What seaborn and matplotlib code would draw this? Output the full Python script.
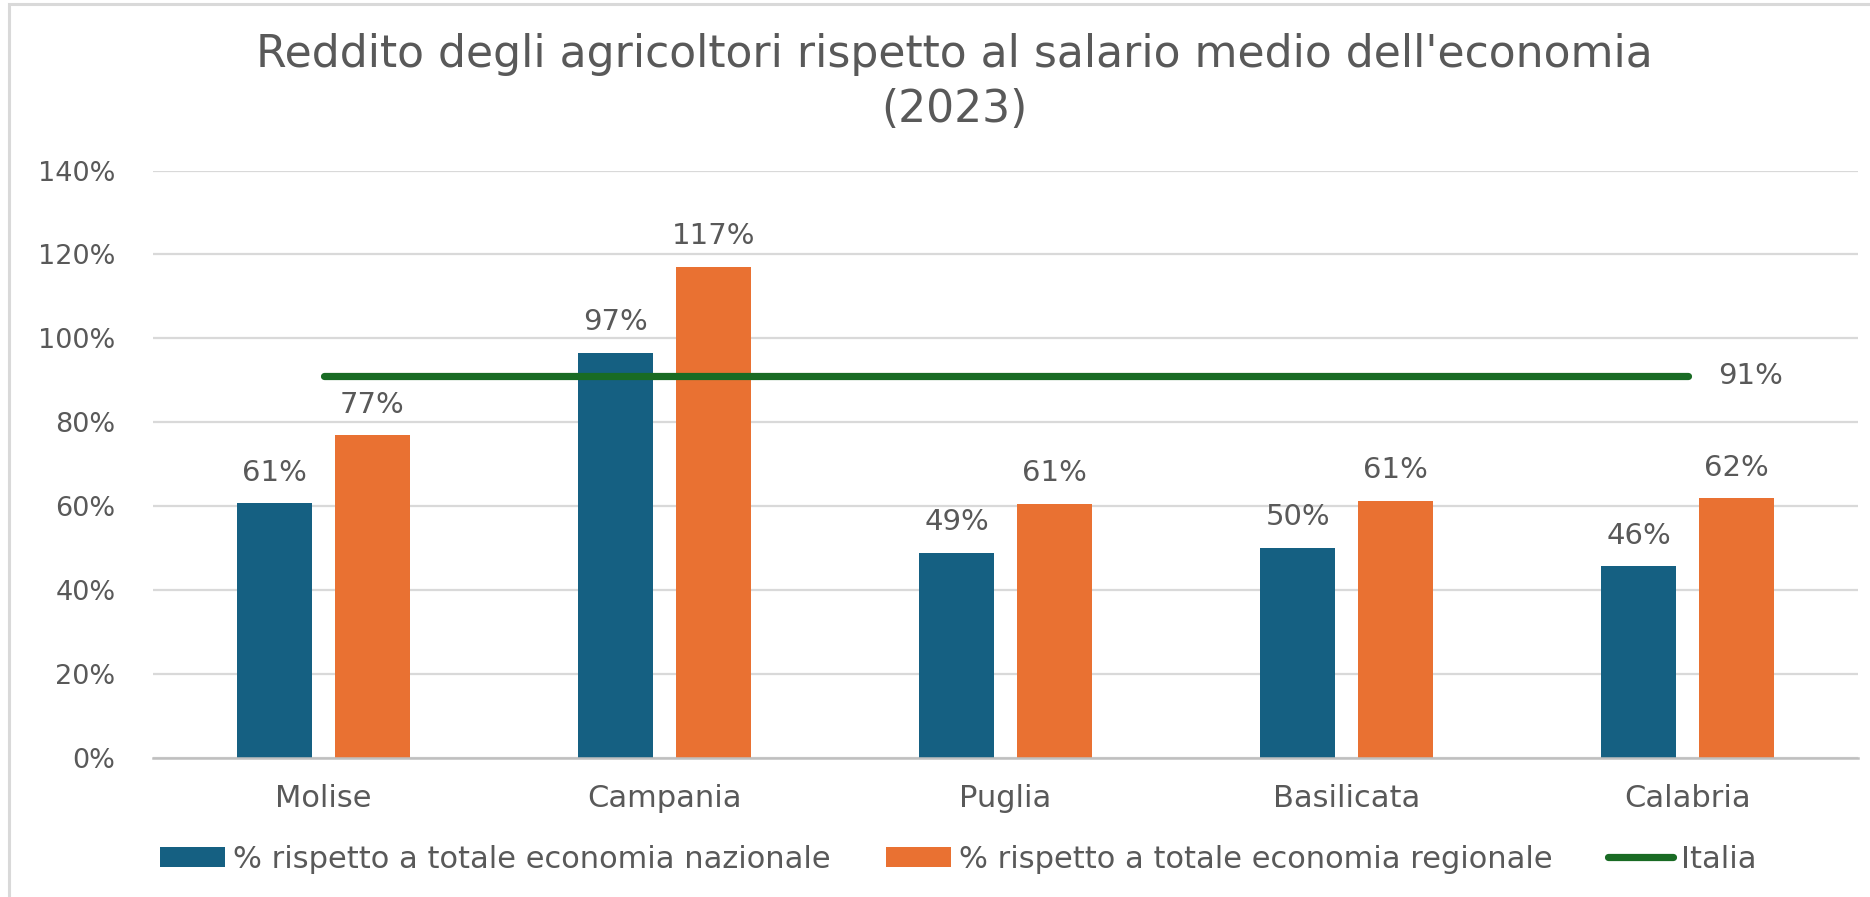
import matplotlib
matplotlib.use("Agg")
import matplotlib.pyplot as plt
import seaborn as sns
import pandas as pd
from matplotlib.patches import Rectangle, Patch
from matplotlib.lines import Line2D
from matplotlib.ticker import PercentFormatter

# ---- data ----
regions = ["Molise", "Campania", "Puglia", "Basilicata", "Calabria"]
naz = [0.607, 0.966, 0.489, 0.501, 0.457]
reg = [0.769, 1.171, 0.606, 0.613, 0.619]
italia = 0.91
series_names = ["% rispetto a totale economia nazionale",
                "% rispetto a totale economia regionale"]
line_name = "Italia"
title = "Reddito degli agricoltori rispetto al salario medio dell'economia\n(2023)"

C_BLUE = "#156082"
C_ORANGE = "#E97132"
C_GREEN = "#196B24"
C_TEXT = "#595959"
C_GRID = "#D9D9D9"

sns.set_theme(style="white")
plt.rcParams["font.family"] = ["DejaVu Sans"]

df = pd.DataFrame({
    "region": regions * 2,
    "value": naz + reg,
    "serie": [series_names[0]] * len(regions) + [series_names[1]] * len(regions),
})

fig = plt.figure(figsize=(18.7, 8.97), dpi=100)
ax = fig.add_axes([153 / 1870, 1 - 758 / 897, (1858 - 153) / 1870, (758 - 170.5) / 897])

sns.barplot(data=df, x="region", y="value", hue="serie", order=regions,
            hue_order=series_names, palette=[C_BLUE, C_ORANGE],
            width=0.57, gap=0.228, saturation=1, ax=ax, legend=False,
            edgecolor="none", linewidth=0)

ax.plot(list(range(len(regions))), [italia] * len(regions), color=C_GREEN,
        lw=5.2, solid_capstyle="round", zorder=4)

ax.set_xlim(-0.5, len(regions) - 0.5)
ax.set_ylim(0, 1.4)
ax.set_yticks([i * 0.2 for i in range(8)])
ax.yaxis.set_major_formatter(PercentFormatter(1.0, decimals=0))
ax.set_xlabel("")
ax.set_ylabel("")
ax.grid(axis="y", color=C_GRID, lw=1.6)
ax.set_axisbelow(True)
for s in ["top", "right", "left"]:
    ax.spines[s].set_visible(False)
ax.spines["bottom"].set_color("#BFBFBF")
ax.spines["bottom"].set_linewidth(1.8)
ax.tick_params(axis="y", length=0, pad=27, labelsize=19.5, labelcolor=C_TEXT)
ax.tick_params(axis="x", length=0, pad=19, labelsize=22, labelcolor=C_TEXT)

# data labels
for cont in ax.containers:
    ax.bar_label(cont, labels=[f"{v*100:.0f}%" for v in cont.datavalues],
                 padding=12, fontsize=21, color=C_TEXT)

ax.annotate(f"{italia*100:.0f}%", xy=(len(regions) - 1, italia),
            xytext=(22, 0), textcoords="offset points", ha="left", va="center",
            fontsize=21, color=C_TEXT)

fig.text(954 / 1870, 1 - 82 / 897, title, ha="center", va="center",
         fontsize=31.8, color=C_TEXT, linespacing=1.38)

handles = [Patch(facecolor=C_BLUE, edgecolor="none"),
           Patch(facecolor=C_ORANGE, edgecolor="none"),
           Line2D([0], [0], color=C_GREEN, lw=5.2, solid_capstyle="round")]
fig.legend(handles, series_names + [line_name], loc="center",
           bbox_to_anchor=(958 / 1870, 1 - 859 / 897), ncol=3, frameon=False,
           fontsize=22, labelcolor=C_TEXT, handlelength=2.15, handleheight=0.62,
           handletextpad=0.25, columnspacing=1.8)

fig.patches.append(Rectangle((9 / 1870, -0.05), 1.1, 1 - 4 / 897 + 0.05,
                             transform=fig.transFigure, fill=False,
                             edgecolor="#D9D9D9", lw=2.2))

fig.savefig("out.png", dpi=100)
